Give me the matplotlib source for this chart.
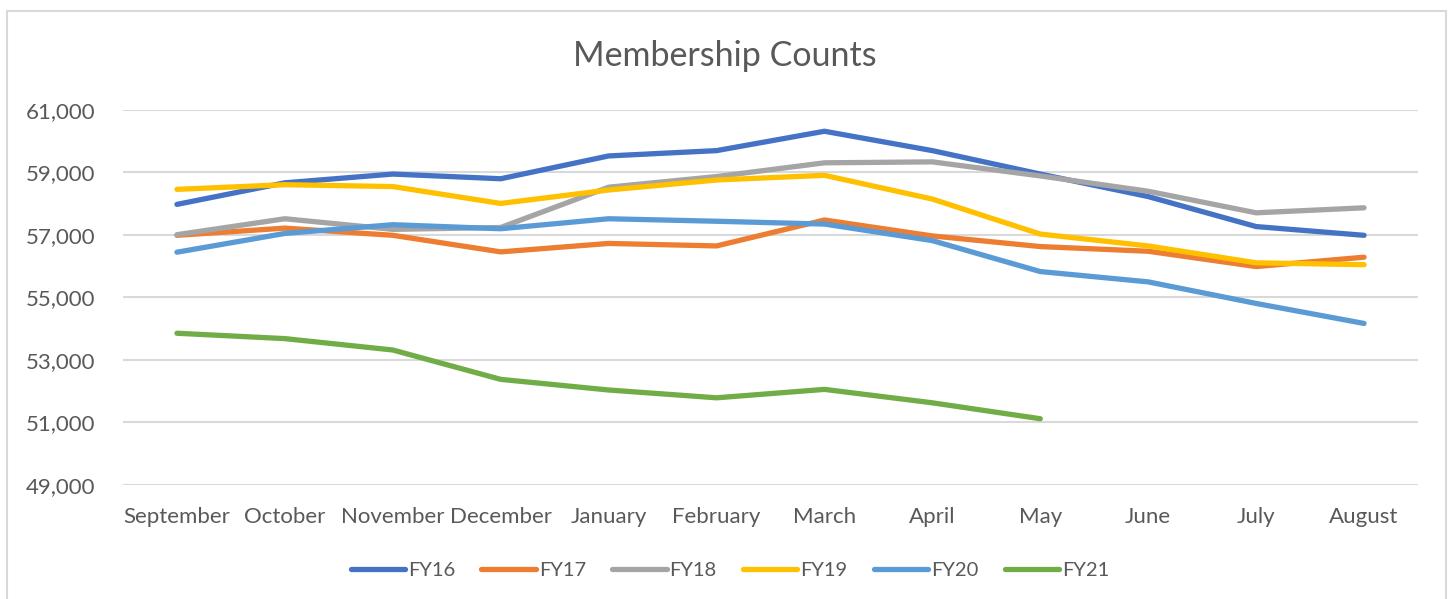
import matplotlib.pyplot as plt
from matplotlib.patches import Rectangle
from matplotlib.ticker import FuncFormatter

# 데이터
months = ['September', 'October', 'November', 'December', 'January', 'February',
          'March', 'April', 'May', 'June', 'July', 'August']
fy16 = [57980, 58670, 58950, 58800, 59530, 59700, 60320, 59700, 58950, 58230, 57270, 56990]
fy17 = [56990, 57220, 56990, 56460, 56730, 56650, 57480, 56970, 56630, 56480, 55990, 56290]
fy18 = [57010, 57520, 57180, 57240, 58530, 58870, 59310, 59340, 58890, 58400, 57710, 57870]
fy19 = [58460, 58610, 58550, 58010, 58440, 58760, 58910, 58150, 57030, 56650, 56110, 56050]
fy20 = [56450, 57050, 57330, 57200, 57520, 57440, 57350, 56820, 55830, 55500, 54810, 54170]
fy21 = [53856, 53684, 53320, 52380, 52040, 51790, 52060, 51630, 51120]

series = [('FY16', fy16, '#4472C4'), ('FY17', fy17, '#ED7D31'), ('FY18', fy18, '#A5A5A5'),
          ('FY19', fy19, '#FFC000'), ('FY20', fy20, '#5B9BD5'), ('FY21', fy21, '#70AD47')]

plt.rcParams['font.family'] = ['Lato', 'DejaVu Sans']
text_color = '#595959'
grid_color = '#d9d9d9'

fig = plt.figure(figsize=(14.5, 5.99), dpi=100)
ax = fig.add_axes([123 / 1450, 1 - 485 / 599, (1418 - 123) / 1450, (485 - 110) / 599])

# 선 그리기
for name, vals, color in series:
    ax.plot(range(len(vals)), vals, color=color, lw=3.8, label=name,
            solid_capstyle='round', solid_joinstyle='round')

ax.set_xlim(-0.5, len(months) - 0.5)
ax.set_ylim(49000, 61000)
ax.set_yticks(range(49000, 61001, 2000))
ax.yaxis.set_major_formatter(FuncFormatter(lambda v, p: f'{int(v):,}'))
ax.set_xticks(range(len(months)))
ax.set_xticklabels(months)

ax.grid(axis='y', color=grid_color, lw=1.5)
ax.set_axisbelow(True)
for s in ax.spines.values():
    s.set_visible(False)
ax.tick_params(axis='both', length=0, labelsize=16, labelcolor=text_color)
ax.tick_params(axis='x', pad=16)
ax.tick_params(axis='y', pad=20)

fig.text(0.5, 1 - 56 / 599, 'Membership Counts', ha='center', va='center',
         fontsize=24.5, color=text_color)

leg = fig.legend(loc='center', bbox_to_anchor=(730 / 1450, 1 - 570 / 599), ncol=6,
                 frameon=False, fontsize=14.5, handlelength=2.7, handletextpad=0.15,
                 columnspacing=1.3)
for t in leg.get_texts():
    t.set_color(text_color)

# 차트 테두리
fig.patches.append(Rectangle((7 / 1450, -0.02), (1446 - 7) / 1450, 1 - 11 / 599 + 0.02,
                             transform=fig.transFigure, fill=False,
                             edgecolor=grid_color, lw=1.5))

fig.savefig('out.png', dpi=100)
